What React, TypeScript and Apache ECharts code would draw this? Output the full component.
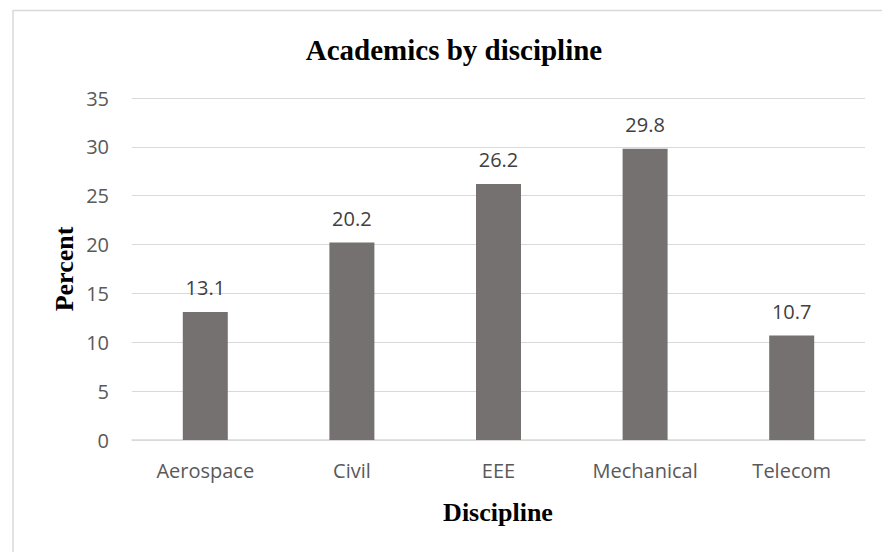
import React, { useEffect, useRef } from "react";
import * as echarts from "echarts";

const categories = ["Aerospace", "Civil", "EEE", "Mechanical", "Telecom"];
const percentValues = [13.1, 20.2, 26.2, 29.8, 10.7];
const titleText = "Academics by discipline";
const xAxisTitle = "Discipline";
const yAxisTitle = "Percent";

export default function App() {
  const ref = useRef<HTMLDivElement>(null);
  useEffect(() => {
    if (!ref.current) return;
    const chart = echarts.init(ref.current, null, { renderer: "svg" });
    const serif = "'Liberation Serif', 'Times New Roman', serif";
    const sans = "'Open Sans', sans-serif";
    chart.setOption({
      animation: false,
      backgroundColor: "#ffffff",
      grid: { left: 132, right: 17, top: 98, bottom: 112, containLabel: false },
      xAxis: {
        type: "category",
        data: categories,
        axisLine: { lineStyle: { color: "#d9d9d9", width: 1.5 } },
        axisTick: { show: false },
        axisLabel: { color: "#595959", fontFamily: sans, fontSize: 20, margin: 20 },
      },
      yAxis: {
        type: "value",
        min: 0,
        max: 35,
        interval: 5,
        axisLine: { show: false },
        axisTick: { show: false },
        axisLabel: { color: "#595959", fontFamily: sans, fontSize: 20, margin: 23 },
        splitLine: { lineStyle: { color: "#d9d9d9", width: 1 } },
      },
      series: [
        {
          type: "bar",
          data: percentValues,
          barWidth: 45,
          itemStyle: { color: "#767171" },
          label: {
            show: true,
            position: "top",
            distance: 14,
            color: "#404040",
            fontFamily: sans,
            fontSize: 20,
          },
        },
      ],
      graphic: [
        {
          type: "rect",
          shape: { x: 13, y: 10.5, width: 900, height: 600 },
          style: { fill: "none", stroke: "#d9d9d9", lineWidth: 1.5 },
          silent: true,
        },
        {
          type: "text",
          x: 454,
          y: 50,
          style: {
            text: titleText,
            font: `bold 29px ${serif}`,
            fill: "#000000",
            textAlign: "center",
            textVerticalAlign: "middle",
          },
        },
        {
          type: "text",
          x: 498,
          y: 512,
          style: {
            text: xAxisTitle,
            font: `bold 26px ${serif}`,
            fill: "#000000",
            textAlign: "center",
            textVerticalAlign: "middle",
          },
        },
        {
          type: "text",
          x: 64,
          y: 269,
          rotation: Math.PI / 2,
          style: {
            text: yAxisTitle,
            font: `bold 26px ${serif}`,
            fill: "#000000",
            textAlign: "center",
            textVerticalAlign: "middle",
          },
        },
      ],
    });
    return () => chart.dispose();
  }, []);
  return (
    <div
      ref={ref}
      style={{ position: "fixed", left: 0, top: 0, width: 882, height: 552 }}
    />
  );
}
